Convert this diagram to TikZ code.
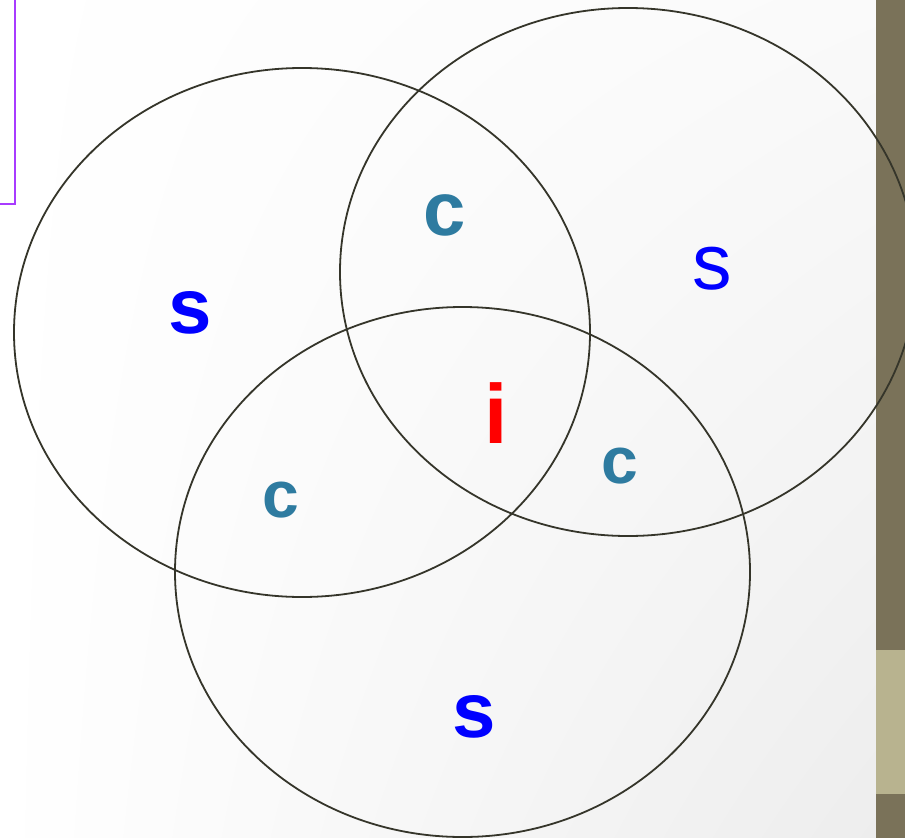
\documentclass[tikz,border=0pt]{standalone}
\usepackage{fontspec}
\setmainfont{Liberation Sans}
\usepackage{tikz}
\usetikzlibrary{shadings}
\definecolor{barolive}{HTML}{7A7259}
\definecolor{bandolive}{HTML}{B8B38F}
\definecolor{ringline}{HTML}{35352A}
\definecolor{cteal}{HTML}{2E7BA0}
\definecolor{boxviolet}{HTML}{A83BFF}

\begin{document}
\begin{tikzpicture}[x=1bp, y=-1bp,
        ring/.style={draw=ringline, line width=1.8bp},
        lbl/.style={inner sep=0pt, anchor=base},
        sbold/.style={lbl, text=blue, font=\fontsize{78bp}{90bp}\selectfont\bfseries},
        sthin/.style={lbl, text=blue, font=\fontsize{79bp}{90bp}\selectfont},
        cbig/.style={lbl, text=cteal, font=\fontsize{76bp}{90bp}\selectfont\bfseries},
        csmall/.style={lbl, text=cteal, font=\fontsize{66bp}{80bp}\selectfont\bfseries},
        ibold/.style={lbl, text=red, font=\fontsize{84bp}{96bp}\selectfont\bfseries}]
        \clip (0,0) rectangle (905,838);
        % background and side bar
        \shade[upper left=white, lower left=white, upper right=black!2, lower right=black!7]
          (0,0) rectangle (876,838);
        \fill[barolive] (876,0) rectangle (905,838);
        \fill[bandolive] (876,650) rectangle (905,794);
        \draw[boxviolet, line width=2.2bp] (15,-2) -- (15,204) -- (-2,204);
        % the three sets
        \draw[ring] (302,332.5) ellipse [x radius=288, y radius=264.5];
        \draw[ring] (628,272) ellipse [x radius=288, y radius=264];
        \draw[ring] (462.5,572) ellipse [x radius=287.5, y radius=265];
        % labels
        \node[sbold] (sleft) at (190,333) {s};
        \node[sthin] (sright) at (712,289) {s};
        \node[sbold] (sbottom) at (474,737) {s};
        \node[cbig] (ctop) at (445,235) {c};
        \node[csmall] (cleft) at (281,517) {c};
        \node[csmall] (cright) at (620,483) {c};
        \node[ibold] (imid) at (496,443) {i};
\end{tikzpicture}
\end{document}
